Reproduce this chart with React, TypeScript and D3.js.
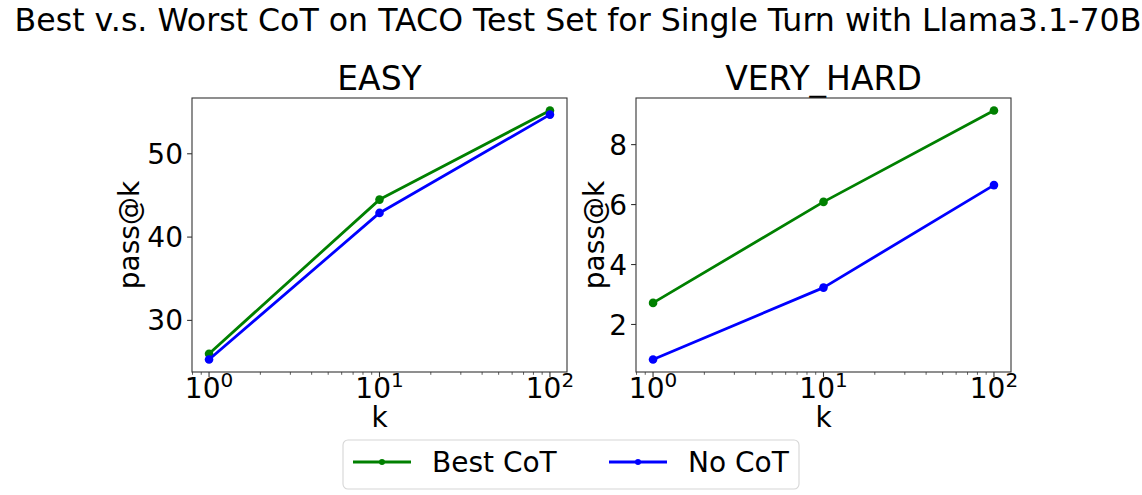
import React from 'react';
import * as d3 from 'd3';

const kValues = [1, 10, 100];
const easyBest = [26.0, 44.5, 55.2];
const easyNo = [25.3, 42.9, 54.7];
const hardBest = [2.72, 6.09, 9.14];
const hardNo = [0.83, 3.23, 6.65];
const easyTicks = [30, 40, 50];
const hardTicks = [2, 4, 6, 8];
const xTickExps = [0, 1, 2];

const W = 1142;
const H = 495;
const FONT = 'DejaVu Sans, sans-serif';
const GREEN = '#008000';
const BLUE = '#0000ff';

interface PanelProps {
  left: number;
  title: string;
  best: number[];
  no: number[];
  yTicks: number[];
  labelOffset: number;
}

const top = 98;
const bottom = 372;
const panelW = 375;

const Panel: React.FC<PanelProps> = ({ left, title, best, no, yTicks, labelOffset }) => {
  const x = d3.scaleLog().domain([Math.pow(10, -0.1), Math.pow(10, 2.1)]).range([left, left + panelW]);
  const all = [...best, ...no];
  const lo = d3.min(all) || 0;
  const hi = d3.max(all) || 0;
  const pad = (hi - lo) * 0.05;
  const y = d3.scaleLinear().domain([lo - pad, hi + pad]).range([bottom, top]);

  const line = d3.line<number>()
    .x((_, i) => x(kValues[i]))
    .y(d => y(d));

  // minor ticks 2..9 per decade inside the domain
  const minor: number[] = [];
  for (let e = -1; e <= 2; e++) {
    for (let m = 2; m <= 9; m++) {
      const v = m * Math.pow(10, e);
      const [d0, d1] = x.domain();
      if (v >= d0 && v <= d1) minor.push(v);
    }
  }

  const series = [
    { values: best, color: GREEN },
    { values: no, color: BLUE },
  ];

  return (
    <g>
      <text x={left + panelW / 2} y={90} textAnchor="middle" fontSize={33} fontFamily={FONT}>{title}</text>
      {series.map((s, si) => (
        <g key={si}>
          <path d={line(s.values) || ''} fill="none" stroke={s.color} strokeWidth={2.8} strokeLinejoin="round" />
          {s.values.map((v, i) => (
            <circle key={i} cx={x(kValues[i])} cy={y(v)} r={4.3} fill={s.color} />
          ))}
        </g>
      ))}
      <rect x={left} y={top} width={panelW} height={bottom - top} fill="none" stroke="#333" strokeWidth={1.1} />
      {minor.map((v, i) => (
        <line key={i} x1={x(v)} x2={x(v)} y1={bottom} y2={bottom + 2.8} stroke="#333" strokeWidth={0.8} />
      ))}
      {xTickExps.map(e => {
        const px = x(Math.pow(10, e));
        return (
          <g key={e}>
            <line x1={px} x2={px} y1={bottom} y2={bottom + 4.9} stroke="#333" strokeWidth={1.1} />
            <text x={px} y={398} textAnchor="middle" fontSize={28} fontFamily={FONT}>
              10<tspan fontSize={20} dy={-11}>{e}</tspan>
            </text>
          </g>
        );
      })}
      {yTicks.map(t => (
        <g key={t}>
          <line x1={left - 4.9} x2={left} y1={y(t)} y2={y(t)} stroke="#333" strokeWidth={1.1} />
          <text x={left - 9} y={y(t)} dy="0.36em" textAnchor="end" fontSize={28} fontFamily={FONT}>{t}</text>
        </g>
      ))}
      <text x={left + panelW / 2} y={427} textAnchor="middle" fontSize={28} fontFamily={FONT}>k</text>
      <text transform={`translate(${left - labelOffset},${(top + bottom) / 2}) rotate(-90)`} textAnchor="middle" fontSize={28} fontFamily={FONT}>pass@k</text>
    </g>
  );
};

export default function App() {
  const legendItems = [
    { label: 'Best CoT', color: GREEN, lx: 353, tx: 432 },
    { label: 'No CoT', color: BLUE, lx: 609, tx: 688 },
  ];
  return (
    <svg width={W} height={H} style={{ position: 'absolute', left: 0, top: 0, background: '#fff' }}>
      <rect width={W} height={H} fill="#fff" />
      <text x={578} y={31} textAnchor="middle" fontSize={31.6} fontFamily={FONT}>
        Best v.s. Worst CoT on TACO Test Set for Single Turn with Llama3.1-70B
      </text>
      <Panel left={192} title="EASY" best={easyBest} no={easyNo} yTicks={easyTicks} labelOffset={53} />
      <Panel left={636} title="VERY_HARD" best={hardBest} no={hardNo} yTicks={hardTicks} labelOffset={32} />
      <rect x={343} y={440} width={456} height={49} rx={5} fill="#fff" stroke="#d6d6d6" strokeWidth={1.1} />
      {legendItems.map(it => (
        <g key={it.label}>
          <line x1={it.lx} x2={it.lx + 58} y1={462} y2={462} stroke={it.color} strokeWidth={2.8} />
          <circle cx={it.lx + 29} cy={462} r={3} fill={it.color} />
          <text x={it.tx} y={472} fontSize={28} fontFamily={FONT}>{it.label}</text>
        </g>
      ))}
    </svg>
  );
}
